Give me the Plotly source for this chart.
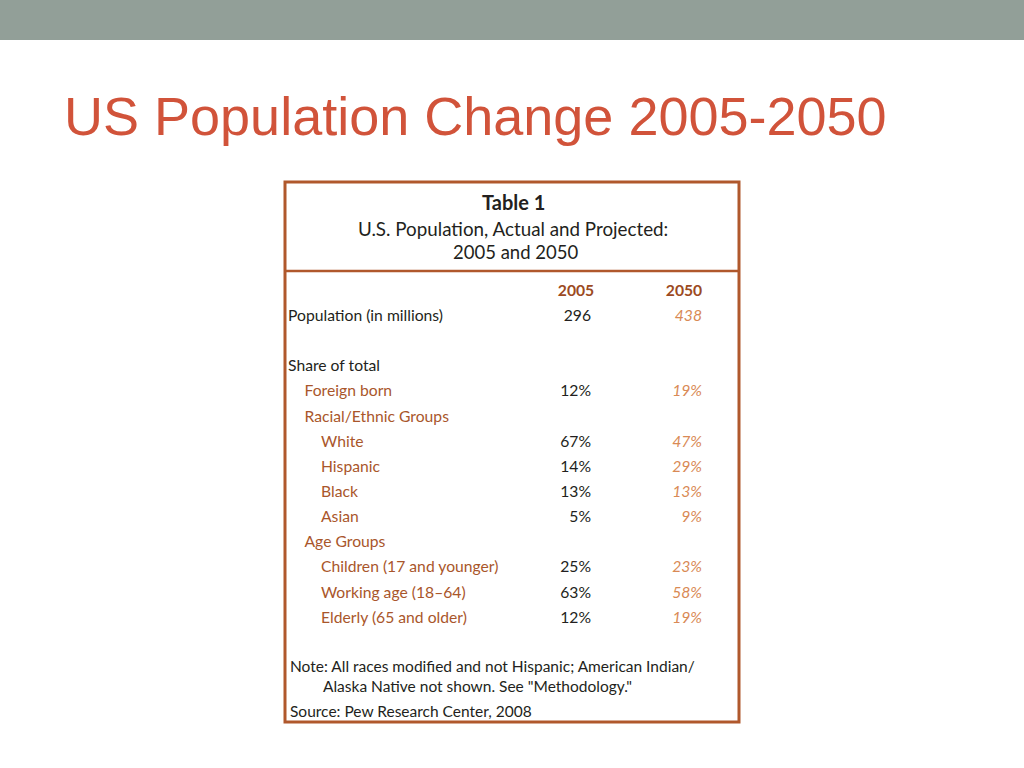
import plotly.graph_objects as go

# table content
labels = ["Population (in millions)", "", "Share of total", "Foreign born",
          "Racial/Ethnic Groups", "White", "Hispanic", "Black", "Asian",
          "Age Groups", "Children (17 and younger)", "Working age (18\u201364)",
          "Elderly (65 and older)"]
levels = [0, 0, 0, 1, 1, 2, 2, 2, 2, 1, 2, 2, 2]
vals_2005 = ["296", "", "", "12%", "", "67%", "14%", "13%", "5%", "", "25%", "63%", "12%"]
vals_2050 = ["438", "", "", "19%", "", "47%", "29%", "13%", "9%", "", "23%", "58%", "19%"]
years = ["2005", "2050"]

W, H = 1024, 768
FONT = "Lato"
BROWN = "#A9562B"
ORANGE = "#D98A55"
DARK = "#231F20"
ROW0, ROWH = 317, 25.15


def px(x):
    return x / W


def py(y):
    return 1 - y / H


rows = list(range(len(labels)))
label_x = [288 + 16.5 * lv for lv in levels]
label_col = [DARK if lv == 0 else BROWN for lv in levels]

fig = go.Figure()

# row labels
fig.add_trace(go.Scatter(
    x=label_x, y=rows, mode="text", text=labels,
    textposition="middle right",
    textfont=dict(family=FONT, size=15.7, color=label_col),
    hoverinfo="skip"))

# 2005 column
fig.add_trace(go.Scatter(
    x=[591] * len(rows), y=rows, mode="text", text=vals_2005,
    textposition="middle left",
    textfont=dict(family=FONT, size=15.7, color=DARK),
    hoverinfo="skip"))

# 2050 column (projected, italic)
fig.add_trace(go.Scatter(
    x=[702] * len(rows), y=rows, mode="text", text=vals_2050,
    textposition="middle left",
    textfont=dict(family=FONT, size=15.7, color=ORANGE, style="italic"),
    hoverinfo="skip"))

# column headers
fig.add_trace(go.Scatter(
    x=[576, 684], y=[-1, -1], mode="text", text=years,
    textposition="middle center",
    textfont=dict(family=FONT, size=15.7, color="#9C4A22", weight="bold"),
    hoverinfo="skip"))

# row r sits at ROW0 + ROWH*r px from top
fig.update_yaxes(range=[(H - ROW0) / ROWH, -ROW0 / ROWH], visible=False, fixedrange=True)
fig.update_xaxes(range=[0, W], visible=False, fixedrange=True)

shapes = [
    # header bar
    dict(type="rect", xref="paper", yref="paper", x0=0, x1=1, y0=py(40), y1=1,
         fillcolor="#929F98", line_width=0, layer="below"),
    # table frame
    dict(type="rect", xref="paper", yref="paper", x0=px(285), x1=px(739),
         y0=py(722), y1=py(182), line=dict(color="#B0582C", width=3)),
    dict(type="line", xref="paper", yref="paper", x0=px(285), x1=px(739),
         y0=py(271), y1=py(271), line=dict(color="#B0582C", width=2.5)),
]


def note(text, x, y, size=15.5, anchor="left", color=DARK):
    return dict(text=text, x=px(x), y=py(y), xref="paper", yref="paper",
                xanchor=anchor, yanchor="middle", showarrow=False,
                font=dict(family=FONT, size=size, color=color))


title = note("US Population Change 2005-2050", 62, 116, size=54, color="#D1533A")
title["font"]["family"] = "Liberation Sans"

annotations = [
    title,
    note("<b>Table 1</b>", 513, 202, size=20, anchor="center"),
    note("U.S. Population, Actual and Projected:", 513, 228, size=18.8, anchor="center"),
    note("2005 and 2050", 515, 252, size=18.5, anchor="center"),
    note("Note: All races modified and not Hispanic; American Indian/", 288, 666),
    note("Alaska Native not shown. See \"Methodology.\"", 321, 686),
    note("Source: Pew Research Center, 2008", 288, 711),
]

fig.update_layout(
    width=W, height=H, margin=dict(l=0, r=0, t=0, b=0),
    paper_bgcolor="white", plot_bgcolor="white",
    showlegend=False, shapes=shapes, annotations=annotations)

fig.write_html("out.html", config={"displayModeBar": False},
               post_script="document.body.style.margin='0';")
